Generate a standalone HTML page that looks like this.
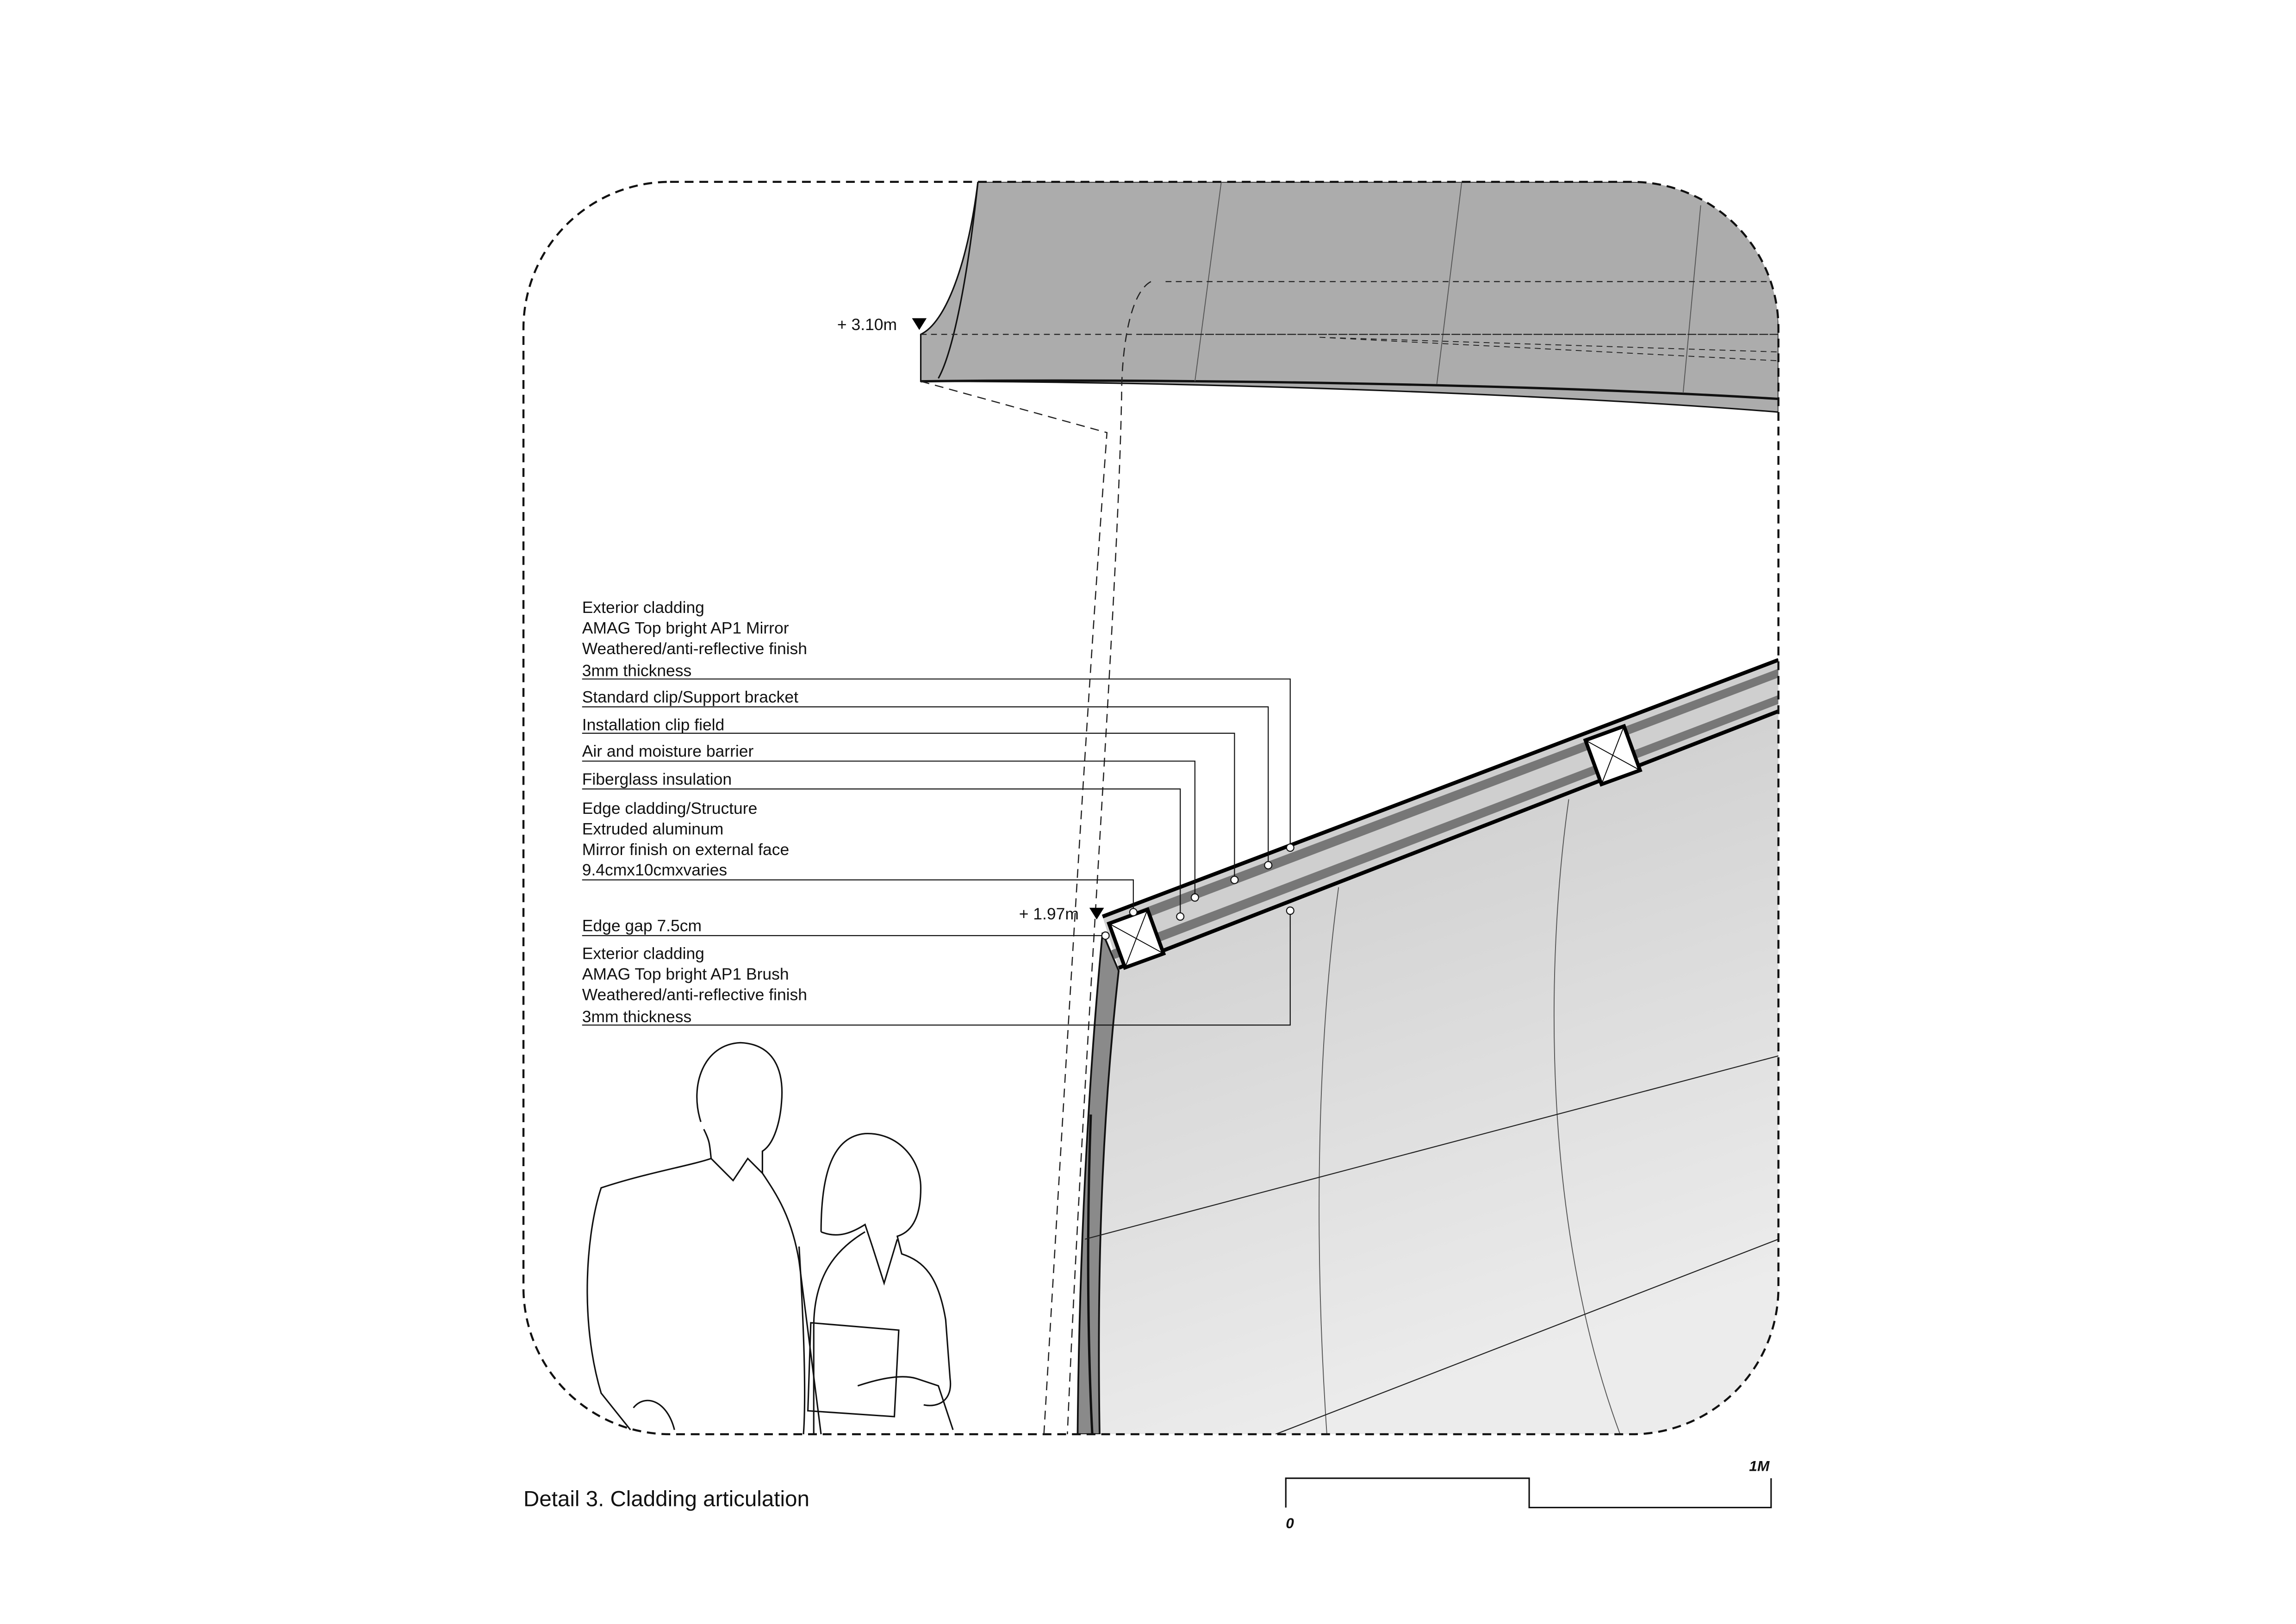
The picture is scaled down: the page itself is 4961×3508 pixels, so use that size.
<!DOCTYPE html>
<html><head><meta charset="utf-8"><style>
html,body{margin:0;padding:0;background:#fff}
svg{display:block}
text{font-family:"Liberation Sans",sans-serif;font-size:11.2px;fill:#111}
</style></head><body>
<svg width="4961" height="3508" viewBox="0 0 1566 1107.4" xmlns="http://www.w3.org/2000/svg">
<defs>
<linearGradient id="wg" x1="0" y1="0" x2="0.3" y2="1">
<stop offset="0" stop-color="#c8c8c8"/><stop offset="1" stop-color="#ececec"/>
</linearGradient>
<clipPath id="frame"><path d="M457,124 H1113 A100,100 0 0 1 1213,224 V878 A100,100 0 0 1 1113,978 H457 A100,100 0 0 1 357,878 V224 A100,100 0 0 1 457,124 Z"/></clipPath>
</defs>

<g clip-path="url(#frame)">
<path d="M667,124 H1213 V281 C1050,268 800,260 628,260 V228 C645,220 660,180 667,124 Z" fill="#acacac" stroke="#111" stroke-width="1"/>
<path d="M628,260 C800,258 1050,262 1213,272" fill="none" stroke="#111" stroke-width="1.6"/>
<path d="M667,124 C660,190 650,240 640,258" fill="none" stroke="#111" stroke-width="1"/>
<path d="M833,124 L815,260 M997,124 L980,262 M1160,140 L1148,268" stroke="#555" stroke-width="0.6" fill="none"/>
<path d="M628,228 H1213 M795,192 H1213 M780,228 H1213" stroke="#222" stroke-width="0.7" stroke-dasharray="4,3" fill="none"/>
<path d="M900,230 L1213,240 M900,230 L1213,246" stroke="#222" stroke-width="0.6" stroke-dasharray="4,3" fill="none"/>
<path d="M760,660 L1213,485 V978 H750 C748,860 750,740 760,660 Z" fill="url(#wg)"/>
<path d="M752,636 L763,662 C752,760 748,860 750,978 L735,978 C736,860 742,740 752,636 Z" fill="#8a8a8a" stroke="#111" stroke-width="1.2"/>
<path d="M744,760 C741,840 742,920 745,978" stroke="#111" stroke-width="1.6" fill="none"/>
<path d="M913,605 C900,700 895,830 905,978 M1070,545 C1055,650 1050,830 1105,978" stroke="#555" stroke-width="0.6" fill="none"/>
<path d="M740,845 L1213,720 M870,978 L1213,845" stroke="#222" stroke-width="0.7" fill="none"/>
<path d="M752,625 L1213,450 V485 L763,660 Z" fill="#cfcfcf"/>
<path d="M755,629 L1213,456 V462 L758,635 Z" fill="#777"/>
<path d="M760,654 L1213,480 V474 L758,648 Z" fill="#777"/>
<path d="M752,625 L1213,450" stroke="#000" stroke-width="2.6"/>
<path d="M763,660 L1213,485" stroke="#000" stroke-width="2.6"/>
<g transform="translate(775,640) rotate(-20)"><rect x="-14" y="-16" width="28" height="32" fill="#fff" stroke="#000" stroke-width="2.5"/><path d="M-14,-16 L14,16 M14,-16 L-14,16" stroke="#000" stroke-width="0.6"/></g>
<g transform="translate(1100,515) rotate(-20)"><rect x="-14" y="-16" width="28" height="32" fill="#fff" stroke="#000" stroke-width="2.5"/><path d="M-14,-16 L14,16 M14,-16 L-14,16" stroke="#000" stroke-width="0.6"/></g>
</g>

<path d="M457,124 H1113 A100,100 0 0 1 1213,224 V878 A100,100 0 0 1 1113,978 H457 A100,100 0 0 1 357,878 V224 A100,100 0 0 1 457,124 Z" fill="none" stroke="#111" stroke-width="1.4" stroke-dasharray="6,4"/>

<path d="M628,260 L755,295 C740,500 725,760 712,978" fill="none" stroke="#222" stroke-width="0.8" stroke-dasharray="6,4"/>
<path d="M785,192 C770,200 765,240 765,270 C762,420 740,700 728,978" fill="none" stroke="#222" stroke-width="0.8" stroke-dasharray="6,4"/>

<text x="571" y="225">+ 3.10m</text>
<path d="M622,217 h10 l-5,8 z" fill="#000"/>
<text x="695" y="627">+ 1.97m</text>
<path d="M743,619 h10 l-5,8 z" fill="#000"/>

<g>
<text x="397" y="418">Exterior cladding</text>
<text x="397" y="432">AMAG Top bright AP1 Mirror</text>
<text x="397" y="446">Weathered/anti-reflective finish</text>
<text x="397" y="461">3mm thickness</text>
<text x="397" y="479">Standard clip/Support bracket</text>
<text x="397" y="498">Installation clip field</text>
<text x="397" y="516">Air and moisture barrier</text>
<text x="397" y="535">Fiberglass insulation</text>
<text x="397" y="555">Edge cladding/Structure</text>
<text x="397" y="569">Extruded aluminum</text>
<text x="397" y="583">Mirror finish on external face</text>
<text x="397" y="597">9.4cmx10cmxvaries</text>
<text x="397" y="635">Edge gap 7.5cm</text>
<text x="397" y="654">Exterior cladding</text>
<text x="397" y="668">AMAG Top bright AP1 Brush</text>
<text x="397" y="682">Weathered/anti-reflective finish</text>
<text x="397" y="697">3mm thickness</text>
</g>
<g fill="none" stroke="#111" stroke-width="0.7">
<path d="M397,463 H880 V578"/>
<path d="M397,482 H865 V590"/>
<path d="M397,500 H842 V600"/>
<path d="M397,519 H815 V612"/>
<path d="M397,538 H805 V625"/>
<path d="M397,600 H773 V621"/>
<path d="M397,638 H752"/>
<path d="M397,699 H880 V621"/>
</g>
<g fill="#fff" stroke="#111" stroke-width="0.7">
<circle cx="880" cy="578" r="2.5"/><circle cx="865" cy="590" r="2.5"/><circle cx="842" cy="600" r="2.5"/>
<circle cx="815" cy="612" r="2.5"/><circle cx="805" cy="625" r="2.5"/><circle cx="773" cy="622" r="2.5"/>
<circle cx="754" cy="638" r="2.5"/><circle cx="880" cy="621" r="2.5"/>
</g>

<g fill="none" stroke="#111" stroke-width="1">
<path d="M478,765 C470,740 480,712 505,711 C528,712 535,730 533,752 C532,765 528,780 520,785 L520,800 C530,815 540,830 545,860 L560,978"/>
<path d="M480,770 C484,778 484,780 485,790 C470,795 440,800 410,810 C400,840 395,900 410,950 L430,975"/>
<path d="M485,790 L500,805 L510,790 L520,800"/>
<path d="M432,960 C440,950 455,955 460,975"/>
<path d="M545,850 C548,900 550,950 548,978"/>
<path d="M560,840 C560,800 568,775 590,773 C612,772 628,790 628,810 C628,830 622,840 612,843 L615,855 C630,860 640,870 645,900 L648,940 C650,955 640,960 630,958"/>
<path d="M560,840 C572,845 582,840 590,835 L595,850 L603,875 L612,845"/>
<path d="M590,840 C570,852 555,870 555,905 L555,978"/>
<path d="M553,902 L613,907 L610,966 L551,962 Z"/>
<path d="M585,945 C600,940 615,937 625,940 L640,945 L650,975"/>
</g>

<text x="357" y="1027" style="font-size:15px">Detail 3. Cladding articulation</text>

<path d="M877,1028 V1008 H1043 V1028 H1208 V1008" fill="none" stroke="#111" stroke-width="1"/>
<text x="877" y="1042" style="font-size:10px;font-weight:bold;font-style:italic">0</text>
<text x="1193" y="1003" style="font-size:10px;font-weight:bold;font-style:italic">1M</text>
</svg>
</body></html>
